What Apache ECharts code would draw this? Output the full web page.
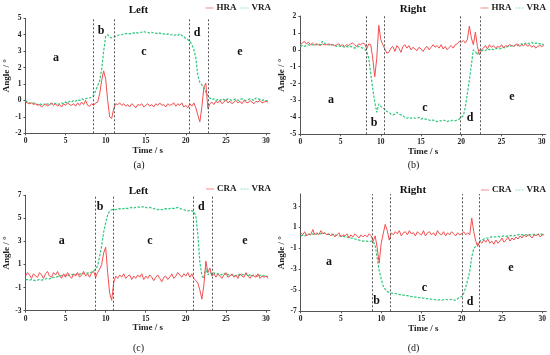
<!DOCTYPE html>
<html><head><meta charset="utf-8">
<script src="https://cdn.jsdelivr.net/npm/echarts@6/dist/echarts.min.js"></script>
<style>html,body{margin:0;padding:0;background:#fff}#c{width:550px;height:355px}</style>
</head><body><div id="c"></div>
<script>
// sampling step of all series (seconds)
const STEP = 0.25;

// (a) Left: HRA / VRA
const hraLeft = [
-0.1,-0.15,-0.2,-0.15,-0.25,-0.2,-0.3,-0.25,
-0.4,-0.3,-0.2,-0.35,-0.25,-0.15,-0.3,-0.2,
-0.35,-0.25,-0.4,-0.2,-0.3,-0.15,-0.25,-0.3,
-0.2,-0.35,-0.15,-0.3,-0.1,-0.25,0.0,-0.3,
-0.35,-0.2,-0.3,-0.15,-0.1,0.4,1.2,1.8,
1.3,0.0,-1.0,-1.1,-0.5,-0.2,-0.25,-0.15,
-0.3,-0.2,-0.35,-0.25,-0.4,-0.2,-0.3,-0.45,
-0.25,-0.3,-0.2,-0.4,-0.3,-0.2,-0.35,-0.25,
-0.4,-0.2,-0.3,-0.15,-0.3,-0.25,-0.4,-0.2,
-0.3,-0.25,-0.15,-0.35,-0.2,-0.3,-0.15,-0.4,
-0.3,-0.45,-0.2,-0.35,-0.15,-0.45,-0.9,-1.3,
-0.4,0.8,1.05,-0.5,-0.2,-0.1,-0.25,-0.05,
-0.15,0.0,-0.2,-0.1,0.05,-0.15,-0.05,-0.2,
-0.1,0.0,-0.15,-0.05,-0.2,0.0,-0.1,-0.15,
0.0,-0.1,-0.2,-0.05,-0.1,0.0,-0.15,-0.1,
-0.05,-0.1];
const vraLeftA = [
0.0,-0.1,-0.15,-0.2,-0.15,-0.2,-0.25,-0.2,
-0.25,-0.2,-0.3,-0.2,-0.25,-0.2,-0.15,-0.2,
-0.25,-0.2,-0.15,-0.2,-0.1,-0.15,-0.05,-0.1,
0.0,-0.05,0.05,0.0,0.1,0.05,0.1,0.15,
0.15,0.2,0.3,0.6,0.9,1.2,1.9,3.0,
3.9,4.0,3.85,3.8,3.85,3.9,3.95,4.0,
4.0,4.05,4.05,4.1,4.05,4.1,4.1,4.15,
4.1,4.15,4.15,4.2,4.15,4.15,4.1,4.15,
4.1,4.1,4.05,4.1,4.05,4.05,4.0,4.05,
4.0,4.0,3.95,4.0,3.95,4.05,3.95,3.9,
3.75,3.7,3.6,3.4,3.1,2.6,1.5,1.1,
0.95,0.8,0.5,0.3,0.15,0.05,0.1,0.0,
0.05,0.0,0.1,0.05,0.0,0.1,0.05,0.0,
0.05,0.1,0.0,0.05,0.1,0.05,0.0,0.05,
0.1,0.05,0.0,0.15,0.1,0.05,0.0,0.05,
0.0,-0.05];

// (b) Right: HRA / VRA
const hraRight = [
0.3,0.4,0.5,0.35,0.45,0.3,0.4,0.3,
0.35,0.3,0.25,0.35,0.3,0.3,0.35,0.3,
0.3,0.25,0.3,0.35,0.25,0.3,0.2,0.3,
0.25,0.35,0.4,0.3,0.2,0.35,0.3,0.4,
0.35,0.05,0.35,0.3,-0.5,-1.6,-0.5,1.45,
0.6,0.3,0.05,-0.2,-0.15,0.1,0.2,-0.1,
0.25,0.1,-0.15,0.2,0.3,0.1,0.25,0.0,
0.15,0.05,-0.05,0.15,0.05,-0.1,0.1,0.2,
0.0,0.15,0.3,0.15,0.25,0.1,0.3,0.05,
0.2,0.0,0.15,0.25,0.1,0.3,0.35,0.5,
0.45,0.55,0.4,0.6,1.4,0.7,0.3,1.05,
0.2,-0.3,0.0,0.1,0.25,0.05,0.3,0.15,
0.25,0.1,0.2,0.15,0.3,0.1,0.25,0.2,
0.3,0.25,0.2,0.3,0.35,0.2,0.3,0.25,
0.35,0.2,0.3,0.15,0.25,0.1,0.2,0.25,
0.2,0.25];
const vraRightB = [
0.2,0.25,0.2,0.25,0.3,0.25,0.3,0.25,
0.3,0.35,0.3,0.5,0.4,0.3,0.3,0.25,
0.3,0.25,0.2,0.25,0.2,0.2,0.15,0.2,
0.15,0.2,0.15,0.1,0.15,0.2,0.15,0.1,
0.05,-0.1,-0.5,-1.4,-2.3,-3.1,-3.7,-3.2,
-3.35,-3.45,-3.5,-3.65,-3.7,-3.8,-3.85,-3.8,
-3.7,-3.8,-3.85,-3.9,-4.0,-4.05,-4.0,-4.05,
-4.0,-4.05,-4.05,-4.0,-4.1,-4.05,-4.1,-4.1,
-4.15,-4.2,-4.15,-4.2,-4.25,-4.2,-4.2,-4.15,
-4.2,-4.25,-4.2,-4.2,-4.15,-4.2,-4.15,-4.1,
-4.0,-3.9,-3.4,-2.6,-1.8,-0.9,0.0,-0.1,
-0.3,0.0,-0.1,0.0,-0.05,0.05,0.0,0.05,
0.0,0.05,0.1,0.05,0.1,0.15,0.1,0.2,
0.2,0.25,0.2,0.3,0.25,0.3,0.35,0.3,
0.4,0.35,0.4,0.45,0.35,0.4,0.4,0.35,
0.35,0.3];

// (c) Left: CRA / VRA
const craLeft = [
0.0,0.3,0.1,-0.2,0.2,0.0,-0.1,0.3,
0.1,-0.2,0.2,0.4,0.0,-0.1,0.3,0.1,
0.4,0.0,-0.2,0.2,-0.1,0.3,0.0,-0.2,
0.2,0.0,0.3,-0.1,0.1,0.4,0.0,0.2,
-0.1,0.3,0.4,-0.1,0.3,0.6,1.0,2.0,
2.5,0.3,-1.5,-2.1,-0.6,0.0,-0.2,0.1,
-0.1,0.2,-0.2,0.0,0.1,-0.3,0.0,-0.2,
0.1,-0.1,0.2,-0.3,0.0,-0.2,0.1,-0.1,
-0.4,-0.1,0.1,-0.2,-0.5,-0.1,0.0,-0.3,
-0.1,0.2,-0.2,0.0,0.3,0.1,-0.1,0.2,
0.0,0.3,-0.1,0.2,-0.2,-0.4,-0.6,-1.2,
-2.0,-0.8,1.3,0.3,0.7,0.0,0.2,-0.1,
0.2,0.0,-0.2,0.1,0.3,-0.1,0.0,0.2,
-0.1,0.1,-0.2,0.2,0.0,-0.1,0.3,0.0,
-0.2,0.1,0.0,-0.1,0.2,-0.2,0.0,-0.1,
0.0,-0.2];
const vraLeftC = [
-0.3,-0.3,-0.35,-0.3,-0.35,-0.4,-0.35,-0.3,
-0.35,-0.3,-0.25,-0.2,-0.25,-0.15,-0.1,-0.1,
-0.05,0.0,0.05,0.0,0.1,0.05,0.1,0.15,
0.1,0.15,0.2,0.15,0.25,0.2,0.3,0.25,
0.3,0.35,0.45,0.6,0.9,1.7,2.6,3.8,
4.6,5.3,5.65,5.75,5.8,5.75,5.8,5.85,
5.8,5.85,5.9,5.85,5.9,5.95,5.9,5.95,
6.0,5.95,6.0,6.0,5.95,5.9,5.95,5.9,
5.85,5.8,5.75,5.8,5.75,5.8,5.85,5.8,
5.85,5.9,5.85,5.9,5.95,5.85,5.8,5.75,
5.7,5.65,5.7,5.65,5.6,5.2,3.6,1.2,
0.05,-0.2,0.7,0.1,0.3,0.2,0.3,0.15,
0.2,0.1,0.15,0.25,0.1,0.15,0.05,0.1,
0.15,0.0,0.1,0.05,0.15,0.1,0.2,0.05,
0.1,0.0,0.1,0.05,-0.05,0.1,0.0,0.05,
0.0,-0.05];

// (d) Right: CRA / VRA
const craRight = [
0.5,0.3,0.6,0.2,0.4,0.3,0.8,0.3,
0.5,0.3,0.7,0.4,0.5,0.3,0.4,0.2,
0.4,0.1,0.3,0.5,0.1,0.3,0.2,0.4,
0.0,0.3,0.1,0.4,0.2,0.0,0.3,0.1,
0.3,0.1,0.4,0.2,-0.3,0.2,-0.9,-2.4,
-0.5,0.4,1.3,0.7,-0.2,0.5,0.3,0.6,
0.4,0.7,0.2,0.5,0.6,0.3,0.7,0.4,
0.5,0.2,0.6,0.4,0.3,0.7,0.2,0.5,
0.6,0.3,0.5,0.2,0.7,0.4,0.3,0.6,
0.2,0.5,0.3,0.6,0.4,0.2,0.5,0.3,
0.4,0.6,0.3,0.5,0.3,1.9,0.6,-0.3,
-0.8,-0.3,-0.5,-0.2,-0.4,-0.1,-0.5,-0.3,
-0.6,-0.2,-0.5,-0.3,0.0,-0.4,-0.2,0.1,
-0.3,0.0,-0.2,0.1,-0.1,0.2,0.0,0.3,
0.1,0.3,0.2,0.0,0.3,0.2,0.4,0.1,
0.3,0.3];
const vraRightD = [
0.2,0.25,0.2,0.3,0.35,0.3,0.4,0.35,
0.4,0.45,0.4,0.5,0.45,0.4,0.35,0.4,
0.3,0.3,0.25,0.2,0.2,0.15,0.1,0.1,
0.0,0.0,-0.05,-0.1,-0.15,-0.2,-0.25,-0.3,
-0.3,-0.3,-0.35,-0.3,-0.3,-0.7,-1.9,-3.1,
-3.9,-4.6,-4.9,-5.1,-5.2,-5.25,-5.3,-5.3,
-5.35,-5.4,-5.4,-5.45,-5.5,-5.5,-5.55,-5.6,
-5.6,-5.65,-5.65,-5.7,-5.7,-5.75,-5.75,-5.8,
-5.8,-5.85,-5.85,-5.9,-5.9,-5.9,-5.95,-5.9,
-5.85,-5.9,-5.9,-5.85,-5.9,-5.95,-5.8,-5.65,
-5.6,-5.3,-4.7,-4.0,-3.2,-1.8,-1.0,-0.8,
-0.5,-0.3,-0.2,-0.1,0.0,0.0,0.05,0.1,
0.1,0.1,0.15,0.1,0.15,0.2,0.15,0.2,
0.2,0.25,0.2,0.3,0.3,0.35,0.3,0.3,
0.3,0.35,0.3,0.3,0.35,0.3,0.35,0.4,
0.35,0.4];

// phase boundaries (s)
const phasesA = [8.4, 11.1, 20.4, 22.8];
const phasesB = [8.15, 10.4, 19.9, 22.4];
const phasesC = [8.7, 10.95, 20.9, 23.3];
const phasesD = [8.9, 11.1, 20.1, 22.15];

const phaseLetters = ['a','b','c','d','e'];

const time = hraLeft.map((_, i) => i * STEP);
const pairs = arr => arr.map((v, i) => [time[i], v]);

const FONT = "'Liberation Serif','Times New Roman',serif";
const RED = '#f24f4f', GREEN = '#2fc77c';
const ICON_SOLID = 'path://M0,0h12v1h-12z';
const ICON_DASH = 'path://M0,0h3v1h-3z M4.5,0h3v1h-3z M9,0h3v1h-3z';

const panels = [
  { grid:{left:25.5, top:18.3, width:244.5, height:115}, y:[-2,5,1],
    red:hraLeft, redName:'HRA', green:vraLeftA, phases:phasesA,
    legend:{right:279, top:3.5}, title:'Left', titlePos:[138.5,10], cap:'(a)', capPos:[139,165],
    letters:[[56,58],[101,31],[144,52],[197,33],[240,52]] },
  { grid:{left:300.3, top:16, width:245.5, height:118.3}, y:[-5,2,1],
    red:hraRight, redName:'HRA', green:vraRightB, phases:phasesB,
    legend:{right:4, top:3.5}, title:'Right', titlePos:[413,9.5], cap:'(b)', capPos:[413.5,165],
    letters:[[331,100],[374,122.7],[425,108],[470,117.7],[512,96.7]] },
  { grid:{left:25.5, top:195.3, width:244.5, height:115.4}, y:[-3,7,2],
    red:craLeft, redName:'CRA', green:vraLeftC, phases:phasesC,
    legend:{right:279, top:184.5}, title:'Left', titlePos:[138.5,190.7], cap:'(c)', capPos:[138.5,348.5],
    letters:[[61.7,240.7],[100,207.3],[150,240.7],[201.3,207.3],[245,240.7]] },
  { grid:{left:300.7, top:194, width:245.5, height:117.3}, y:[-7,4.2,2],
    red:craRight, redName:'CRA', green:vraRightD, phases:phasesD,
    legend:{right:4, top:185.5}, title:'Right', titlePos:[413,190], cap:'(d)', capPos:[413.5,348.5],
    letters:[[329,262.3],[376.7,301],[424.3,288.3],[470,301.7],[511,268.3]] }
];

const option = { animation:false, backgroundColor:'#fff', grid:[], xAxis:[], yAxis:[], series:[], legend:[], graphic:[] };

const axisCommon = {
  axisLine:{show:true, onZero:false, lineStyle:{color:'#555', width:1}},
  axisTick:{show:true, length:2, lineStyle:{color:'#555'}},
  splitLine:{show:false},
  axisLabel:{fontFamily:FONT, fontSize:7.5, fontWeight:'bold', color:'#222'},
  nameTextStyle:{fontFamily:FONT, fontSize:9, fontWeight:'bold', color:'#222'}
};

panels.forEach((p, k) => {
  option.grid.push(p.grid);
  option.xAxis.push(Object.assign({}, axisCommon, {
    type:'value', gridIndex:k, min:0, max:30.5, interval:5,
    name:'Time / s', nameLocation:'middle', nameGap:9,
    axisLabel:Object.assign({}, axisCommon.axisLabel, {margin:4, showMaxLabel:false})
  }));
  const aligned = Math.abs(((p.y[1] - p.y[0]) / p.y[2]) % 1) < 1e-9;
  option.yAxis.push(Object.assign({}, axisCommon, {
    type:'value', gridIndex:k, min:p.y[0], max:p.y[1], interval:p.y[2],
    name:'Angle / °', nameLocation:'middle', nameGap:12,
    axisLabel:Object.assign({}, axisCommon.axisLabel, {margin:4, showMaxLabel:aligned})
  }));
  option.series.push({
    type:'line', name:p.redName, xAxisIndex:k, yAxisIndex:k, data:pairs(p.red),
    symbol:'none', lineStyle:{color:RED, width:1}, itemStyle:{color:RED}, z:3,
    markLine:{ silent:true, symbol:['none','none'], label:{show:false},
      lineStyle:{type:[2,2], color:'#555', width:1},
      data:p.phases.map(x => ({xAxis:x})) }
  });
  option.series.push({
    type:'line', name:'VRA', xAxisIndex:k, yAxisIndex:k, data:pairs(p.green),
    symbol:'none', lineStyle:{color:GREEN, width:1.2, type:[2.5,1.5]}, itemStyle:{color:GREEN}, z:2
  });
  option.legend.push({
    data:[{name:p.redName, icon:ICON_SOLID, itemStyle:{color:RED}}, {name:'VRA', icon:ICON_DASH, itemStyle:{color:GREEN}}],
    right:p.legend.right, top:p.legend.top,
    itemWidth:8, itemHeight:2, itemGap:4, padding:0, selectedMode:false,
    textStyle:{fontFamily:FONT, fontSize:9, fontWeight:'bold', color:'#222', padding:[0,0,0,-2]}
  });
  option.graphic.push({ type:'text', x:p.titlePos[0], y:p.titlePos[1],
    style:{text:p.title, font:"bold 11px "+FONT, fill:'#111', align:'center', verticalAlign:'middle'} });
  option.graphic.push({ type:'text', x:p.capPos[0], y:p.capPos[1],
    style:{text:p.cap, font:"10px "+FONT, fill:'#111', align:'center', verticalAlign:'middle'} });
  p.letters.forEach((pos, j) => {
    option.graphic.push({ type:'text', x:pos[0], y:pos[1],
      style:{text:phaseLetters[j], font:"bold 12px "+FONT, fill:'#111', align:'center', verticalAlign:'middle'} });
  });
});

const chart = echarts.init(document.getElementById('c'), null, {renderer:'canvas'});
chart.setOption(option);
</script></body></html>
